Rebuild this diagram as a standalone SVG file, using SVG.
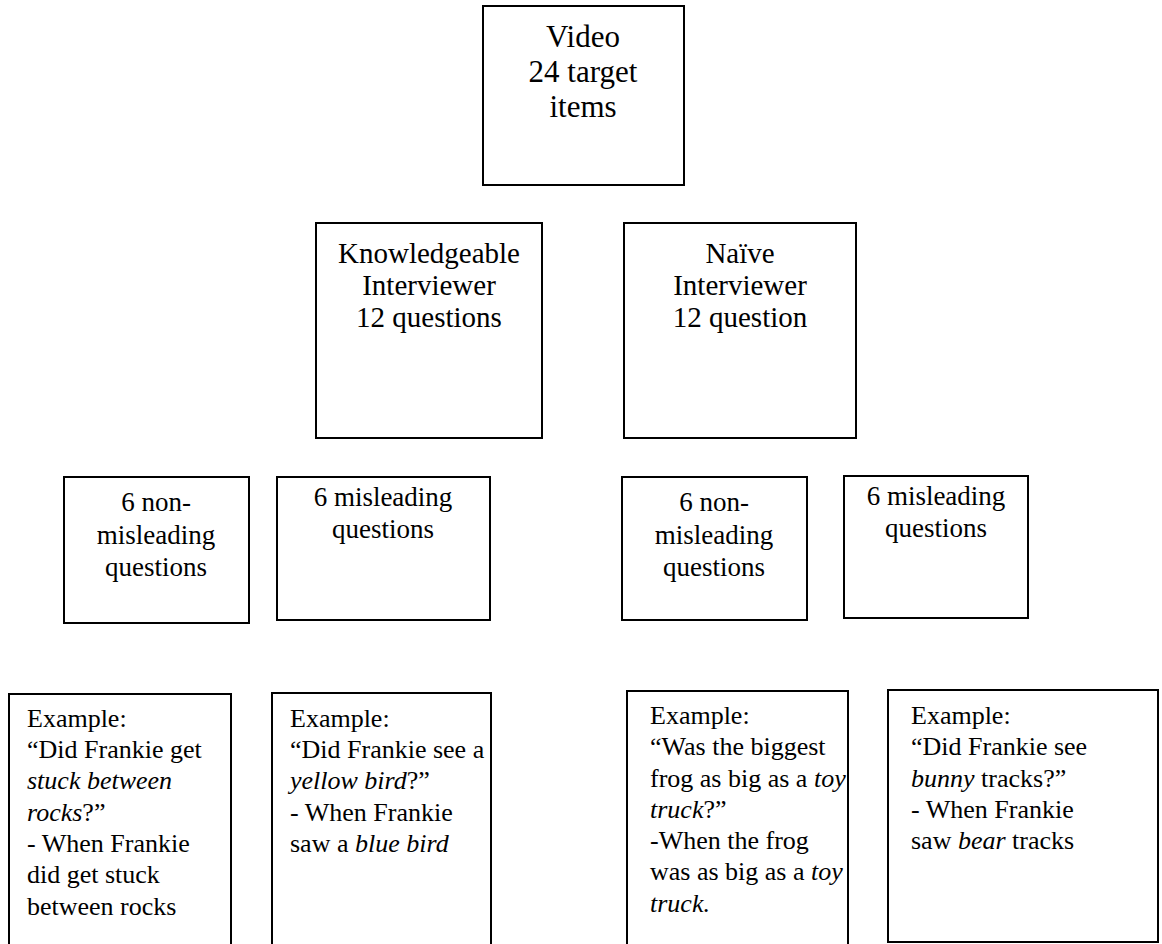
<svg xmlns="http://www.w3.org/2000/svg" width="1162" height="944" viewBox="0 0 1162 944">
<style>
.box{fill:#fff;stroke:#000;stroke-width:2}
text{font-family:"Liberation Serif","Times New Roman",serif;fill:#000}
.t1{font-size:31px;text-anchor:middle}
.t2{font-size:29px;text-anchor:middle}
.t3{font-size:27px;text-anchor:middle}
.t4{font-size:26px}
.i{font-style:italic}
</style>
<rect width="1162" height="944" fill="#fff"/>
<g id="connectors"></g>
<g id="video">
<rect class="box" x="483" y="6" width="201" height="179"/>
<text class="t1" x="583" y="47">Video</text>
<text class="t1" x="583" y="82">24 target</text>
<text class="t1" x="583" y="117">items</text>
</g>
<g id="knowledgeable">
<rect class="box" x="316" y="223" width="226" height="215"/>
<text class="t2" x="429" y="263">Knowledgeable</text>
<text class="t2" x="429" y="295">Interviewer</text>
<text class="t2" x="429" y="327">12 questions</text>
</g>
<g id="naive">
<rect class="box" x="624" y="223" width="232" height="215"/>
<text class="t2" x="740" y="263">Naïve</text>
<text class="t2" x="740" y="295">Interviewer</text>
<text class="t2" x="740" y="327">12 question</text>
</g>
<g id="k-nonmisleading">
<rect class="box" x="64" y="477" width="185" height="146"/>
<text class="t3" x="156" y="511">6 non-</text>
<text class="t3" x="156" y="544">misleading</text>
<text class="t3" x="156" y="576">questions</text>
</g>
<g id="k-misleading">
<rect class="box" x="277" y="477" width="213" height="143"/>
<text class="t3" x="383" y="506">6 misleading</text>
<text class="t3" x="383" y="538">questions</text>
</g>
<g id="n-nonmisleading">
<rect class="box" x="622" y="477" width="185" height="143"/>
<text class="t3" x="714" y="511">6 non-</text>
<text class="t3" x="714" y="544">misleading</text>
<text class="t3" x="714" y="576">questions</text>
</g>
<g id="n-misleading">
<rect class="box" x="844" y="476" width="184" height="142"/>
<text class="t3" x="936" y="505">6 misleading</text>
<text class="t3" x="936" y="537">questions</text>
</g>
<g id="k-non-example">
<rect class="box" x="9" y="694" width="222" height="270"/>
<text class="t4" x="27" y="727">Example:</text>
<text class="t4" x="27" y="758">“Did Frankie get</text>
<text class="t4 i" x="27" y="789">stuck between</text>
<text class="t4" x="27" y="821"><tspan class="i">rocks</tspan>?”</text>
<text class="t4" x="27" y="852">- When Frankie</text>
<text class="t4" x="27" y="883">did get stuck</text>
<text class="t4" x="27" y="915">between rocks</text>
</g>
<g id="k-mis-example">
<rect class="box" x="272" y="693" width="219" height="270"/>
<text class="t4" x="290" y="727">Example:</text>
<text class="t4" x="290" y="758">“Did Frankie see a</text>
<text class="t4" x="290" y="789"><tspan class="i">yellow bird</tspan>?”</text>
<text class="t4" x="290" y="821">- When Frankie</text>
<text class="t4" x="290" y="852">saw a <tspan class="i">blue bird</tspan></text>
</g>
<g id="n-non-example">
<rect class="box" x="627" y="691" width="221" height="270"/>
<text class="t4" x="650" y="724">Example:</text>
<text class="t4" x="650" y="755">“Was the biggest</text>
<text class="t4" x="650" y="787">frog as big as a <tspan class="i">toy</tspan></text>
<text class="t4" x="650" y="818"><tspan class="i">truck</tspan>?”</text>
<text class="t4" x="650" y="849">-When the frog</text>
<text class="t4" x="650" y="880">was as big as a <tspan class="i">toy</tspan></text>
<text class="t4 i" x="650" y="912">truck.</text>
</g>
<g id="n-mis-example">
<rect class="box" x="888" y="690" width="270" height="252"/>
<text class="t4" x="911" y="724">Example:</text>
<text class="t4" x="911" y="755">“Did Frankie see</text>
<text class="t4" x="911" y="787"><tspan class="i">bunny</tspan> tracks?”</text>
<text class="t4" x="911" y="818">- When Frankie</text>
<text class="t4" x="911" y="849">saw <tspan class="i">bear</tspan> tracks</text>
</g>
</svg>
